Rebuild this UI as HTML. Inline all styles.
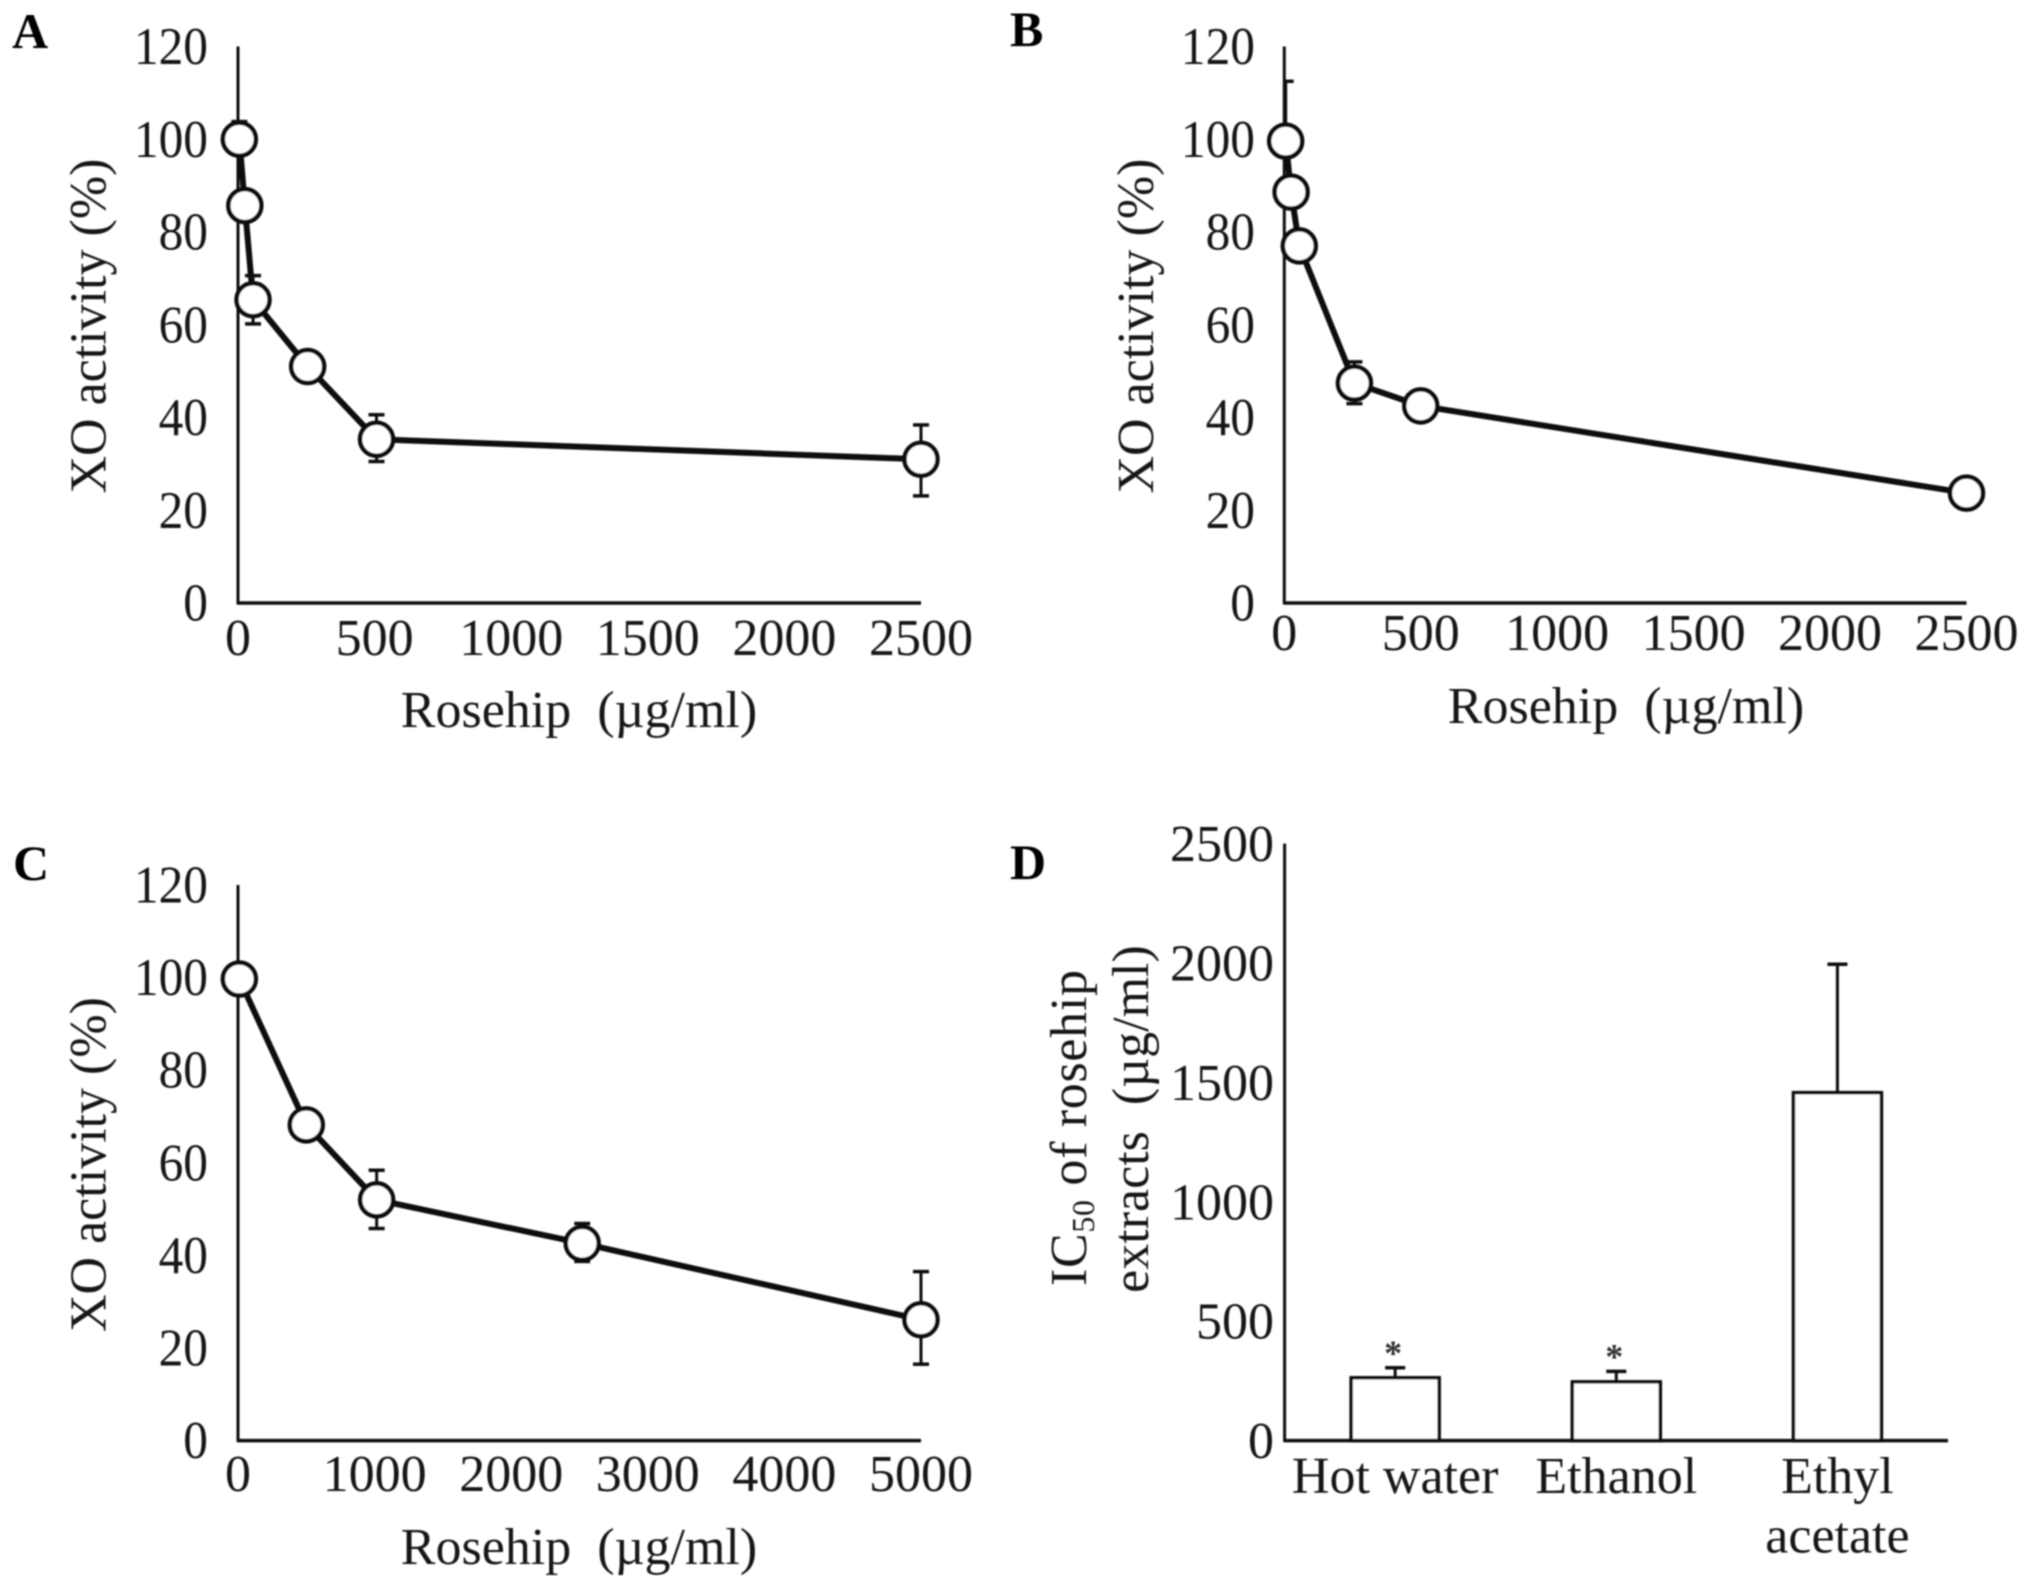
<!DOCTYPE html>
<html lang="en">
<head>
<meta charset="utf-8">
<title>Rosehip XO activity and IC50 charts</title>
<style>
html,body{margin:0;padding:0;background:#fff;width:2031px;height:1587px;overflow:hidden}
svg{display:block}
text{font-family:"Liberation Serif","Times New Roman",serif;font-size:52px;fill:#141414;white-space:pre}
.letter{font-weight:bold;font-size:50px;fill:#000}
.sub{font-size:32px}
</style>
</head>
<body>
<svg id="figure" xmlns="http://www.w3.org/2000/svg" width="2031" height="1587" viewBox="0 0 2031 1587">
  <defs><filter id="soften" x="0" y="0" width="100%" height="100%"><feGaussianBlur stdDeviation="0.7"/></filter></defs>
  <rect x="0" y="0" width="2031" height="1587" fill="#fff"/>
  <g id="content" filter="url(#soften)">
  <g id="panel-a">
    <text class="letter" x="12" y="48">A</text>
    <text x="579" y="727" text-anchor="middle">Rosehip  (µg/ml)</text>
    <text transform="translate(105.5,326) rotate(-90)" text-anchor="middle">XO activity (%)</text>
  </g>
  <g id="panel-b">
    <text class="letter" x="1010" y="46">B</text>
    <text x="1626" y="723" text-anchor="middle">Rosehip  (µg/ml)</text>
    <text transform="translate(1153,326) rotate(-90)" text-anchor="middle">XO activity (%)</text>
  </g>
  <g id="panel-c">
    <text class="letter" x="13" y="880">C</text>
    <text x="579" y="1564" text-anchor="middle">Rosehip  (µg/ml)</text>
    <text transform="translate(105.5,1164.5) rotate(-90)" text-anchor="middle">XO activity (%)</text>
  </g>
  <g id="panel-d">
    <text class="letter" x="1010" y="879">D</text>
    <text transform="translate(1086,1128) rotate(-90)" text-anchor="middle" textLength="316">IC<tspan class="sub" dy="8">50</tspan><tspan dy="-8"> of rosehip</tspan></text>
    <text transform="translate(1148,1119) rotate(-90)" text-anchor="middle">extracts  (µg/ml)</text>
  </g>
  </g>
</svg>
<script>
// Panel A data
const aDose = [5, 25, 55, 255, 507, 2500];
const aActivity = [100, 85.7, 65.4, 51, 35.3, 31];
const aErrHigh = [103.8, null, 70.6, null, 40.6, 38.4];
const aErrLow = [null, null, 60.2, null, 30.5, 23.1];
const aXTicks = [0, 500, 1000, 1500, 2000, 2500];

// Panel B data
const bDose = [5, 25, 55, 257, 500, 2500];
const bActivity = [99.6, 88.6, 77, 47.4, 42.5, 23.7];
const bErrHigh = [112.5, null, null, 52, null, null];
const bErrLow = [null, null, null, 43, null, null];
const bXTicks = [0, 500, 1000, 1500, 2000, 2500];

// Panel C data
const cDose = [10, 500, 1015, 2520, 5000];
const cActivity = [99.7, 68.2, 52, 42.6, 26.1];
const cErrHigh = [null, null, 58.4, 46.9, 36.5];
const cErrLow = [null, null, 45.8, 38.7, 16.5];
const cXTicks = [0, 1000, 2000, 3000, 4000, 5000];

// Shared Y ticks for A-C
const activityTicks = [0, 20, 40, 60, 80, 100, 120];

// Panel D data
const dCategories = ['Hot water', 'Ethanol', 'Ethyl|acetate'];
const dValues = [263, 246, 1457];
const dErrHigh = [305, 290, 1995];
const dStars = ['*', '*', ''];
const dYTicks = [0, 500, 1000, 1500, 2000, 2500];

const NS = 'http://www.w3.org/2000/svg';

function make(parent, tag, attrs, content) {
  const el = document.createElementNS(NS, tag);
  for (const k in attrs) el.setAttribute(k, attrs[k]);
  if (content !== undefined) el.textContent = content;
  parent.appendChild(el);
  return el;
}

function drawLinePanel(panelId, box, dose, activity, errHigh, errLow, xTicks) {
  const g = document.getElementById(panelId);
  const xMax = xTicks[xTicks.length - 1];
  const yMax = activityTicks[activityTicks.length - 1];
  const sx = v => box.left + (v / xMax) * (box.right - box.left);
  const sy = v => box.bottom - (v / yMax) * (box.bottom - box.top);

  let el = make(g, 'line', {x1: box.left, y1: box.top, x2: box.left, y2: box.bottom + 1.5, stroke: '#111', 'stroke-width': 3});
  
  
  el = make(g, 'line', {x1: box.left, y1: box.bottom, x2: box.right, y2: box.bottom, stroke: '#111', 'stroke-width': 3.5});
  
  

  activityTicks.forEach(t => {
    const lab = make(g, 'text', {transform: 'translate(' + box.labelRight + ',' + (sy(t) + 17.5) + ') scale(.95,1.02)', 'text-anchor': 'end'}, String(t));
    
    
  });
  xTicks.forEach(t => {
    const lab = make(g, 'text', {x: sx(t), y: box.xLabelY, 'text-anchor': 'middle'}, String(t));
    
    
  });

  dose.forEach((d, i) => {
    const x = sx(d);
    const hi = errHigh[i], lo = errLow[i];
    [hi, lo].forEach(v => {
      if (v === null) return;
      const bar = make(g, 'line', {x1: x, y1: sy(activity[i]), x2: x, y2: sy(v), stroke: '#111', 'stroke-width': 3});
      
      
      const capLeft = box.clipCaps ? Math.max(x - 8, box.left) : x - 8;
      const cap = make(g, 'line', {x1: capLeft, y1: sy(v), x2: x + 8, y2: sy(v), stroke: '#111', 'stroke-width': 3.5});
      
      
    });
  });

  const pts = dose.map((d, i) => sx(d) + ',' + sy(activity[i])).join(' ');
  const line = make(g, 'polyline', {points: pts, fill: 'none', stroke: '#0a0a0a', 'stroke-width': 6, 'stroke-linejoin': 'round'});
  
  

  dose.forEach((d, i) => {
    const c = make(g, 'circle', {cx: sx(d), cy: sy(activity[i]), r: 16.5, fill: '#fff', stroke: '#0a0a0a', 'stroke-width': 4.5});
    
    
  });
}

function drawBarPanel() {
  const g = document.getElementById('panel-d');
  const left = 1284.6, right = 1948, top = 843.6, bottom = 1440.6;
  const yMax = dYTicks[dYTicks.length - 1];
  const sy = v => bottom - (v / yMax) * (bottom - top);
  const step = (right - left) / dCategories.length;
  const cx = i => left + step * (i + 0.5);
  const barW = 88;

  dValues.forEach((v, i) => {
    const stem = make(g, 'line', {x1: cx(i), y1: sy(v), x2: cx(i), y2: sy(dErrHigh[i]), stroke: '#111', 'stroke-width': 3});
    
    
    const cap = make(g, 'line', {x1: cx(i) - 10, y1: sy(dErrHigh[i]), x2: cx(i) + 10, y2: sy(dErrHigh[i]), stroke: '#111', 'stroke-width': 3.5});
    
    
    const bar = make(g, 'rect', {x: cx(i) - barW / 2, y: sy(v), width: barW, height: bottom - sy(v), fill: '#fff', stroke: '#111', 'stroke-width': 3.5});
    
    
    if (dStars[i]) {
      const star = make(g, 'text', {x: cx(i) - 2, y: sy(dErrHigh[i]) - 3, 'text-anchor': 'middle', style: 'font-size:36px;font-weight:bold;fill:#333'}, dStars[i]);
      
      
    }
    dCategories[i].split('|').forEach((part, k) => {
      const lab = make(g, 'text', {x: cx(i), y: 1493 + k * 59.5, 'text-anchor': 'middle'}, part);
      
      
    });
  });

  let el = make(g, 'line', {x1: left, y1: top, x2: left, y2: bottom + 1.5, stroke: '#111', 'stroke-width': 3});
  
  
  el = make(g, 'line', {x1: left, y1: bottom, x2: right, y2: bottom, stroke: '#111', 'stroke-width': 3.5});
  
  

  dYTicks.forEach(t => {
    const lab = make(g, 'text', {x: 1274, y: sy(t) + 17.5, 'text-anchor': 'end'}, String(t));
    
    
  });
}

drawLinePanel('panel-a', {left: 238, right: 921, top: 46.5, bottom: 603, labelRight: 208, xLabelY: 655}, aDose, aActivity, aErrHigh, aErrLow, aXTicks);
drawLinePanel('panel-b', {left: 1284.3, right: 1966.5, top: 46.5, bottom: 603, labelRight: 1255, xLabelY: 650, clipCaps: true}, bDose, bActivity, bErrHigh, bErrLow, bXTicks);
drawLinePanel('panel-c', {left: 238, right: 921, top: 885, bottom: 1440.6, labelRight: 208, xLabelY: 1491}, cDose, cActivity, cErrHigh, cErrLow, cXTicks);
drawBarPanel();
</script>
</body>
</html>
